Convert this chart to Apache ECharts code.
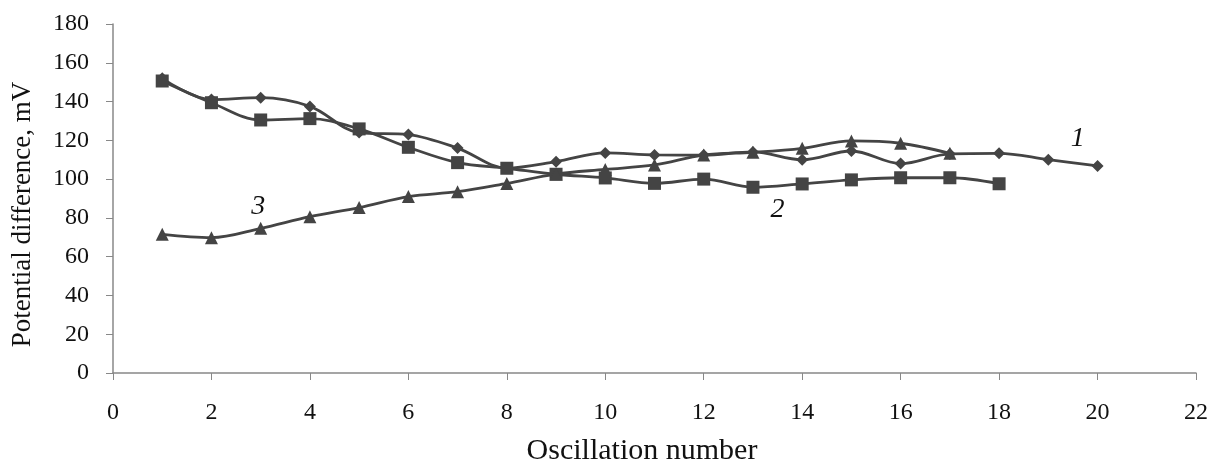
<!DOCTYPE html>
<html><head><meta charset="utf-8">
<script src="https://cdn.jsdelivr.net/npm/echarts@6/dist/echarts.min.js"></script>
<style>html,body{margin:0;padding:0;background:#fff}#c{width:1212px;height:464px}</style>
</head><body><div id="c"></div>
<script>
const xs1 = [1,2,3,4,5,6,7,8,9,10,11,12,13,14,15,16,17,18,19,20];
const s1 = [152,141,142,137.5,124,123,116,105.7,109,113.5,112.5,112.4,114,110,114.5,108,113,113.3,110,106.8];
const xs2 = [1,2,3,4,5,6,7,8,9,10,11,12,13,14,15,16,17,18];
const s2 = [150.6,139.4,130.5,131.2,125.9,116.4,108.5,105.6,102.5,100.6,97.8,100,95.8,97.5,99.6,100.7,100.7,97.6];
const xs3 = [1,2,3,4,5,6,7,8,9,10,11,12,13,14,15,16,17];
const s3 = [71.5,69.8,74.6,80.6,85.3,91,93.5,97.8,102.6,105,107.3,112.4,113.8,115.9,119.7,118.5,113.3];
const curveLabels = [{name:'1', x:19.6, y:121}, {name:'2', x:13.5, y:84}, {name:'3', x:2.95, y:86}];
const xTicks = {min:0, max:22, interval:2};
const yTicks = {min:0, max:180, interval:20};

const dark = '#444444';
const pair = (xs, ys) => xs.map((x,i)=>[x, ys[i]]);
function mk(name, xs, ys, symbol, size, lbl){
  return {
    name, type:'line', smooth:0.35, data: pair(xs, ys),
    symbol, symbolSize:size, showAllSymbol:true,
    lineStyle:{color:dark, width:2.8}, itemStyle:{color:dark},
    z: 3,
    markPoint: {
      symbol:'circle', symbolSize:1, itemStyle:{color:'rgba(0,0,0,0)'},
      data:[{coord:[lbl.x, lbl.y], value:lbl.name}],
      label:{show:true, position:'inside', formatter:lbl.name, color:'#111', fontFamily:'Liberation Serif', fontStyle:'italic', fontSize:28}
    }
  };
}
const chart = echarts.init(document.getElementById('c'), null, {renderer:'canvas'});
chart.setOption({
  animation:false,
  grid:{left:113, top:24, right:16, bottom:91, containLabel:false, outerBoundsMode:'none'},
  xAxis:{type:'value', min:xTicks.min, max:xTicks.max, interval:xTicks.interval,
    name:'Oscillation number', nameLocation:'middle', nameGap:63,
    nameTextStyle:{fontFamily:'Liberation Serif', fontSize:30, color:'#111', padding:[0,25,0,0]},
    axisLine:{lineStyle:{color:'#888', width:1.5}}, axisTick:{show:true, length:7, lineStyle:{color:'#888'}},
    axisLabel:{fontFamily:'Liberation Serif', fontSize:24, color:'#111', margin:28},
    splitLine:{show:false}},
  yAxis:{type:'value', min:yTicks.min, max:yTicks.max, interval:yTicks.interval,
    name:'Potential difference, mV', nameLocation:'middle', nameGap:77,
    nameTextStyle:{fontFamily:'Liberation Serif', fontSize:27, color:'#111', padding:[0,32,0,0]},
    axisLine:{show:true, lineStyle:{color:'#888', width:1.5}}, axisTick:{show:true, length:7, lineStyle:{color:'#888'}},
    axisLabel:{fontFamily:'Liberation Serif', fontSize:24, color:'#111', margin:24},
    splitLine:{show:false}},
  series:[
    mk('1', xs1, s1, 'diamond', 12, curveLabels[0]),
    mk('2', xs2, s2, 'rect', 13, curveLabels[1]),
    mk('3', xs3, s3, 'triangle', 13, curveLabels[2])
  ]
});
</script></body></html>
